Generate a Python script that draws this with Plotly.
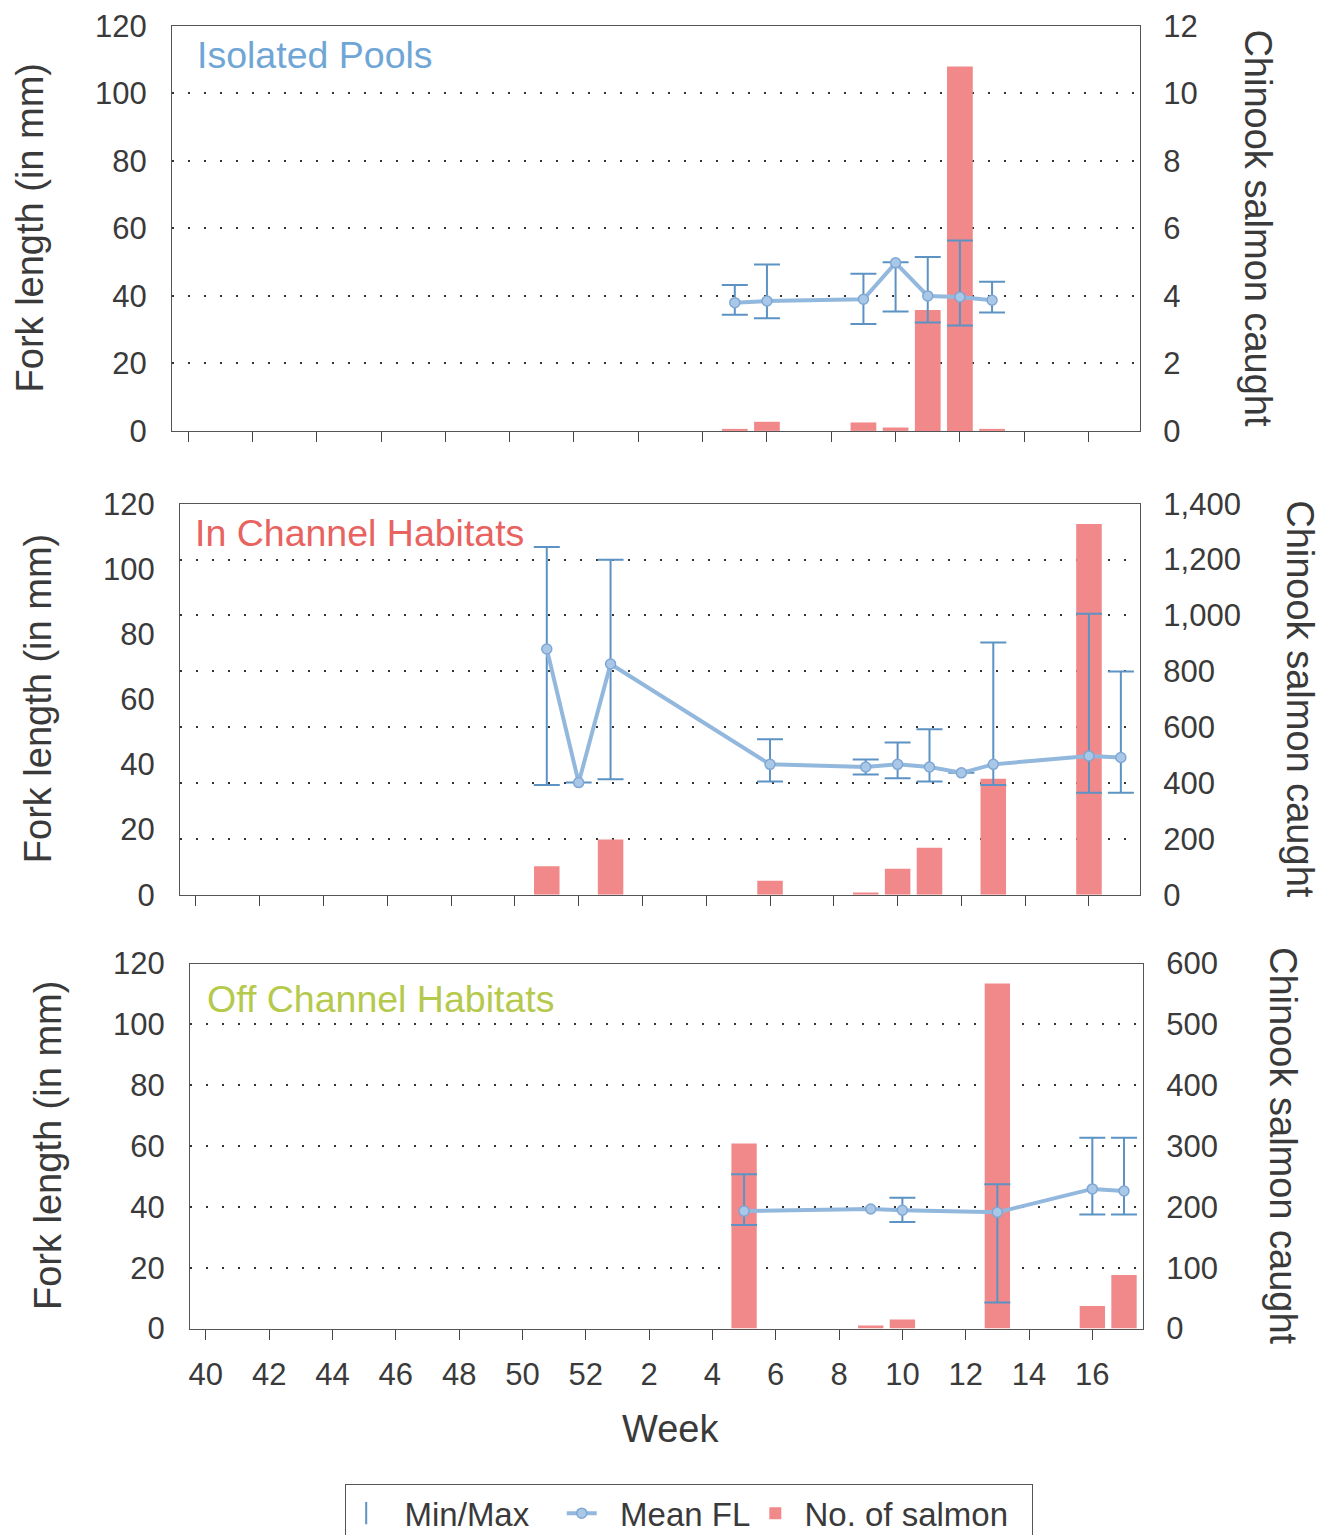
import plotly.graph_objects as go

# week sequence on the x axis (season runs from week 40 into the next year)
week_order = [40, 41, 42, 43, 44, 45, 46, 47, 48, 49, 50, 51, 52,
              1, 2, 3, 4, 5, 6, 7, 8, 9, 10, 11, 12, 13, 14, 15, 16, 17]
tick_weeks = [40, 42, 44, 46, 48, 50, 52, 2, 4, 6, 8, 10, 12, 14, 16]

# Isolated Pools
pools_fl_weeks = [5, 6, 9, 10, 11, 12, 13]
pools_mean = [38.0, 38.5, 39.0, 49.8, 40.0, 39.7, 38.7]
pools_min = [34.4, 33.4, 31.7, 35.4, 32.1, 31.2, 35.1]
pools_max = [43.2, 49.3, 46.6, 50.0, 51.5, 56.4, 44.2]
pools_count_weeks = [5, 6, 9, 10, 11, 12, 13]
pools_counts = [0.06, 0.27, 0.25, 0.1, 3.58, 10.8, 0.06]

# In Channel Habitats
inch_fl_weeks = [51, 52, 1, 6, 9, 10, 11, 12, 13, 16, 17]
inch_mean = [75.4, 34.4, 70.8, 40.0, 39.2, 40.0, 39.2, 37.4, 40.0, 42.6, 42.1]
inch_min = [33.7, 34.4, 35.4, 34.7, 36.9, 35.7, 34.7, None, 33.7, 31.3, 31.3]
inch_max = [106.7, 34.4, 102.8, 47.7, 41.5, 46.7, 50.8, None, 77.4, 86.2, 68.5]
inch_count_weeks = [51, 1, 6, 9, 10, 11, 13, 16]
inch_counts = [102, 198, 50, 8, 93, 168, 415, 1327]

# Off Channel Habitats
offch_fl_weeks = [5, 9, 10, 13, 16, 17]
offch_mean = [38.6, 39.3, 38.9, 38.2, 45.9, 45.2]
offch_min = [34.0, None, 35.0, 8.6, 37.5, 37.5]
offch_max = [50.7, None, 43.0, 47.4, 62.7, 62.7]
offch_count_weeks = [5, 9, 10, 13, 16, 17]
offch_counts = [304, 5, 15, 567, 37, 88]

W, H = 1328, 1535
OFF = 8  # page body margin
FONT = 'Liberation Sans, Arial, sans-serif'
TXT = '#3a3a3a'
BAR = '#F1888A'
LINE = '#93B8DE'
ERR = '#5C92C4'
FRAME = '#555555'
NB = '\u00a0'


def px_x(v):
    return (v - OFF) / W


def px_y(v):
    return 1 - (v - OFF) / H


panels = [
    dict(title='Isolated Pools', tcolor='#6FA6D6',
         fl_weeks=pools_fl_weeks, mean=pools_mean, lo=pools_min, hi=pools_max,
         c_weeks=pools_count_weeks, counts=pools_counts,
         crange=[0, 12], cdtick=2,
         px=(172, 1140), py=(26, 432), ltitle_x=30, rtitle_x=1258, toff=(23, 29)),
    dict(title='In Channel Habitats', tcolor='#E8625F',
         fl_weeks=inch_fl_weeks, mean=inch_mean, lo=inch_min, hi=inch_max,
         c_weeks=inch_count_weeks, counts=inch_counts,
         crange=[0, 1400], cdtick=200,
         px=(180, 1140), py=(505, 897), ltitle_x=38, rtitle_x=1300, toff=(13, 29)),
    dict(title='Off Channel Habitats', tcolor='#B5C94C',
         fl_weeks=offch_fl_weeks, mean=offch_mean, lo=offch_min, hi=offch_max,
         c_weeks=offch_count_weeks, counts=offch_counts,
         crange=[0, 600], cdtick=100,
         px=(190, 1143), py=(966, 1332), ltitle_x=48, rtitle_x=1283, toff=(15, 36)),
]

cats = [str(w) for w in week_order]
ticks = [str(w) for w in tick_weeks]

fig = go.Figure()
annotations = []
layout = {}

for i, p in enumerate(panels, start=1):
    xa = 'x' if i == 1 else f'x{i}'
    yc = 'y' if i == 1 else f'y{2 * i - 1}'
    yf = f'y{2 * i}'
    first = i == 1

    # bars: number of salmon (right axis)
    fig.add_trace(go.Bar(
        x=[str(w) for w in p['c_weeks']], y=p['counts'],
        xaxis=xa, yaxis=yc, width=0.8,
        marker=dict(color=BAR, line=dict(width=0)),
        name=NB + 'No. of salmon' + NB * 2, legendrank=3, showlegend=first))

    err_plus = [None if h is None else h - m for h, m in zip(p['hi'], p['mean'])]
    err_minus = [None if l is None else m - l for l, m in zip(p['lo'], p['mean'])]

    # mean fork length with min/max whiskers (left axis)
    fig.add_trace(go.Scatter(
        x=[str(w) for w in p['fl_weeks']], y=p['mean'],
        xaxis=xa, yaxis=yf, mode='lines+markers',
        line=dict(color=LINE, width=4),
        marker=dict(size=10, color='#A9C8E8', line=dict(color='#7FA7D3', width=1.5)),
        error_y=dict(type='data', symmetric=False, array=err_plus, arrayminus=err_minus,
                     color=ERR, thickness=2, width=13),
        name=NB * 2 + 'Mean FL', legendrank=2, showlegend=first))

    if first:
        fig.add_trace(go.Scatter(
            x=[None], y=[None], xaxis=xa, yaxis=yf, mode='markers',
            marker=dict(symbol='line-ns-open', size=20, color=ERR, line=dict(color=ERR, width=2)),
            name=NB * 2 + 'Min/Max' + NB * 3, legendrank=1))

    x0, x1 = p['px']
    y0, y1 = p['py']
    xkey = 'xaxis' if i == 1 else f'xaxis{i}'
    yckey = 'yaxis' if i == 1 else f'yaxis{2 * i - 1}'
    yfkey = f'yaxis{2 * i}'

    layout[xkey] = dict(
        domain=[px_x(x0), px_x(x1)], anchor=yc, type='category', categoryorder='array',
        categoryarray=cats, range=[-0.5, 29.6], tickmode='array', tickvals=ticks,
        ticks='outside', ticklen=10, tickcolor='#444', tickwidth=1.2,
        showline=True, mirror=True, linecolor=FRAME, linewidth=1.2,
        showgrid=False, showticklabels=(i == 3), ticklabelstandoff=8,
        tickfont=dict(size=31, color=TXT, family=FONT))
    layout[yckey] = dict(
        domain=[px_y(y1), px_y(y0)], anchor=xa, side='right', range=p['crange'],
        dtick=p['cdtick'], tickformat=',', showgrid=True, gridcolor='#333333',
        gridwidth=1.5, griddash='2px,14px', zeroline=False, showline=True,
        linecolor=FRAME, linewidth=1.2, ticks='', ticklabelstandoff=16,
        ticklabeloverflow='allow',
        tickfont=dict(size=31, color=TXT, family=FONT))
    layout[yfkey] = dict(
        overlaying=yc, anchor=xa, side='left', range=[0, 120], dtick=20,
        showgrid=False, zeroline=False, showline=True, linecolor=FRAME,
        linewidth=1.2, ticks='', ticklabelstandoff=18, ticklabeloverflow='allow',
        tickfont=dict(size=31, color=TXT, family=FONT))

    ymid = px_y((y0 + y1) / 2)
    annotations.append(dict(
        text='Fork length (in mm)', x=px_x(p['ltitle_x']), y=ymid, xref='paper', yref='paper',
        textangle=-90, showarrow=False, xanchor='center', yanchor='middle',
        font=dict(size=38, color=TXT, family=FONT)))
    annotations.append(dict(
        text='Chinook salmon caught', x=px_x(p['rtitle_x']), y=ymid, xref='paper', yref='paper',
        textangle=90, showarrow=False, xanchor='center', yanchor='middle',
        font=dict(size=38, color=TXT, family=FONT)))
    tx, ty = p['toff']
    annotations.append(dict(
        text=p['title'], x=px_x(x0 + tx), y=px_y(y0 + ty), xref='paper', yref='paper',
        showarrow=False, xanchor='left', yanchor='middle',
        font=dict(size=37.5, color=p['tcolor'], family=FONT)))

annotations.append(dict(
    text='Week', x=px_x(670), y=px_y(1433), xref='paper', yref='paper',
    showarrow=False, xanchor='center', yanchor='middle',
    font=dict(size=38, color=TXT, family=FONT)))

fig.update_layout(
    width=W, height=H, template='none',
    margin=dict(l=0, r=0, t=0, b=0),
    paper_bgcolor='white', plot_bgcolor='white',
    font=dict(family=FONT, color=TXT),
    bargap=0.2, annotations=annotations,
    legend=dict(orientation='h', x=px_x(345), y=px_y(1488), xanchor='left', yanchor='top',
                bordercolor=FRAME, borderwidth=1.2, traceorder='normal',
                font=dict(size=33, color=TXT, family=FONT)),
    **layout)

fig.write_html('out.html')
